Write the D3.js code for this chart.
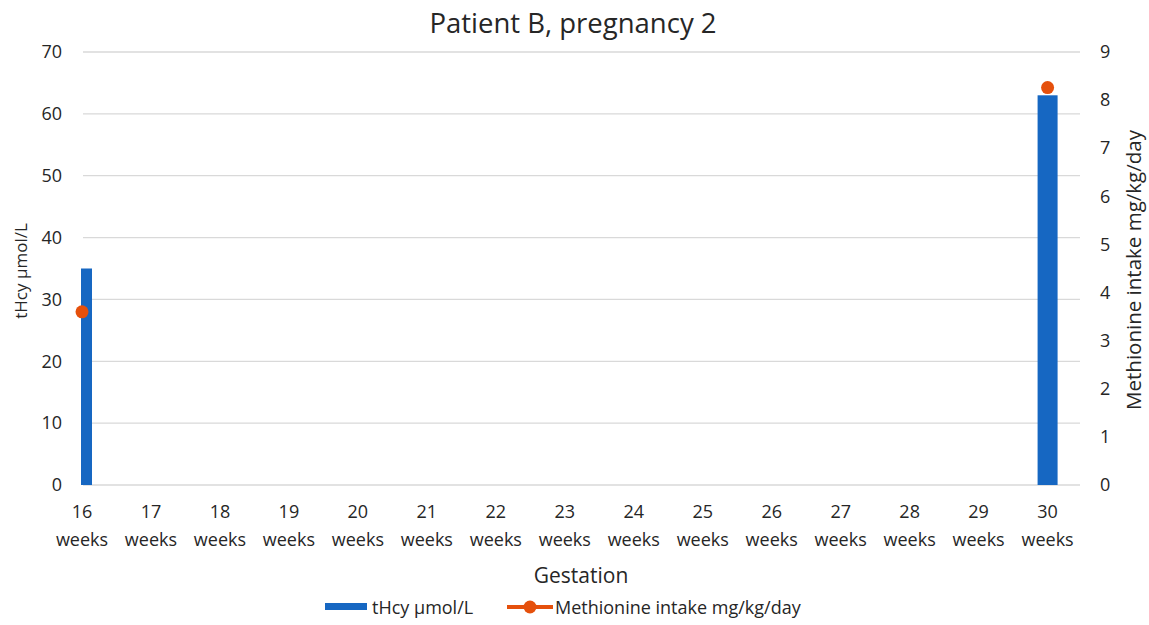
<!DOCTYPE html>
<html><head><meta charset="utf-8">
<script src="https://cdn.jsdelivr.net/npm/d3@7"></script>
<style>body{margin:0;background:#fff}svg{display:block}text{font-family:"Open Sans",sans-serif;fill:#262626}</style>
</head><body><svg id="c" width="1149" height="625"></svg>
<script>
const weeks = [16,17,18,19,20,21,22,23,24,25,26,27,28,29,30];
const weekLabels = weeks.map(w => String(w));
const tHcy = [35,null,null,null,null,null,null,null,null,null,null,null,null,null,63];
const methionine = [3.6,null,null,null,null,null,null,null,null,null,null,null,null,null,8.26];
const leftTicks = [0,10,20,30,40,50,60,70];
const rightTicks = [0,1,2,3,4,5,6,7,8,9];

const svg = d3.select("#c");
const L = 82, R = 1080, T = 52, B = 485;
const x = d3.scaleLinear().domain([16, 30.47]).range([L, R]);
const yL = d3.scaleLinear().domain([0,70]).range([B, T]);
const yR = d3.scaleLinear().domain([0,9]).range([B, T]);
const blue = "#1667C2", orange = "#E5500C", grid = "#d9d9d9";

svg.append("text").attr("x",573).attr("y",33).attr("text-anchor","middle").attr("font-size",27.5).text("Patient B, pregnancy 2");

// gridlines
svg.append("g").selectAll("line").data(leftTicks).join("line")
  .attr("x1",L+1).attr("x2",R).attr("y1",d=>yL(d)).attr("y2",d=>yL(d))
  .attr("stroke",grid).attr("stroke-width",1.3);

// left axis labels
const gl = svg.append("g").attr("transform",`translate(${L-20},0)`)
  .call(d3.axisLeft(yL).tickValues(leftTicks).tickSize(0).tickPadding(0));
gl.select(".domain").remove();
gl.selectAll("text").attr("font-size",18).attr("font-family","Open Sans").attr("fill","#262626");

const gr = svg.append("g").attr("transform",`translate(${R+20},0)`)
  .call(d3.axisRight(yR).tickValues(rightTicks).tickSize(0).tickPadding(0));
gr.select(".domain").remove();
gr.selectAll("text").attr("font-size",18).attr("font-family","Open Sans").attr("fill","#262626");

// x labels
const gx = svg.append("g");
weeks.forEach((w,i)=>{
  const t = gx.append("text").attr("x",x(w)).attr("y",518).attr("text-anchor","middle").attr("font-size",18);
  t.append("tspan").attr("x",x(w)).attr("dy",0).text(weekLabels[i]);
  t.append("tspan").attr("x",x(w)).attr("dy",28).text("weeks");
});

svg.append("text").attr("x",581).attr("y",583).attr("text-anchor","middle").attr("font-size",21).text("Gestation");
svg.append("text").attr("transform","translate(27,271) rotate(-90)").attr("text-anchor","middle").attr("font-size",17).text("tHcy µmol/L");
svg.append("text").attr("transform","translate(1141,270) rotate(-90)").attr("text-anchor","middle").attr("font-size",20.5).text("Methionine intake mg/kg/day");

// bars
svg.append("clipPath").attr("id","clip").append("rect").attr("x",L-1).attr("y",0).attr("width",R-L+1).attr("height",B+1);
const bw = 20;
svg.append("g").attr("clip-path","url(#clip)").selectAll("rect")
  .data(weeks.map((w,i)=>({w,v:tHcy[i]})).filter(d=>d.v!=null)).join("rect")
  .attr("x",d=>x(d.w)-bw/2).attr("width",bw).attr("y",d=>yL(d.v)).attr("height",d=>B-yL(d.v))
  .attr("fill",blue);

// methionine points (gaps between)
const line = d3.line().defined(d=>d.v!=null).x(d=>x(d.w)).y(d=>yR(d.v));
const md = weeks.map((w,i)=>({w,v:methionine[i]}));
svg.append("path").attr("d",line(md)).attr("fill","none").attr("stroke",orange).attr("stroke-width",4);
svg.append("g").selectAll("circle").data(md.filter(d=>d.v!=null)).join("circle")
  .attr("cx",d=>x(d.w)).attr("cy",d=>yR(d.v)).attr("r",6.5).attr("fill",orange);

// legend
const lg = svg.append("g");
lg.append("rect").attr("x",325).attr("y",603).attr("width",42).attr("height",7).attr("fill",blue);
lg.append("text").attr("x",372).attr("y",614).attr("font-size",18).text("tHcy µmol/L");
lg.append("line").attr("x1",507).attr("x2",553).attr("y1",607).attr("y2",607).attr("stroke",orange).attr("stroke-width",4);
lg.append("circle").attr("cx",530).attr("cy",607).attr("r",6.5).attr("fill",orange);
lg.append("text").attr("x",555).attr("y",614).attr("font-size",18).text("Methionine intake mg/kg/day");
</script></body></html>
